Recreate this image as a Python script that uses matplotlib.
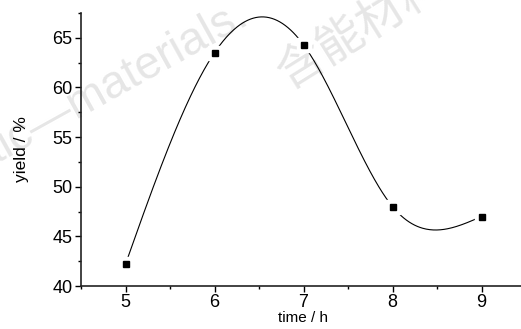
import numpy as np
import matplotlib.pyplot as plt
from matplotlib.ticker import MultipleLocator

plt.rcParams['font.family'] = ['Liberation Sans', 'Noto Sans CJK SC', 'DejaVu Sans']

# data
time_h = [5, 6, 7, 8, 9]
yield_pct = [42.2, 63.5, 64.3, 48.0, 47.0]


def natural_spline(x, y, n=400):
    # natural cubic spline through the measured points (Origin-style smooth line)
    x = np.asarray(x, float)
    y = np.asarray(y, float)
    h = np.diff(x)
    k = len(x)
    A = np.zeros((k, k))
    b = np.zeros(k)
    A[0, 0] = A[-1, -1] = 1
    for i in range(1, k - 1):
        A[i, i - 1] = h[i - 1]
        A[i, i] = 2 * (h[i - 1] + h[i])
        A[i, i + 1] = h[i]
        b[i] = 6 * ((y[i + 1] - y[i]) / h[i] - (y[i] - y[i - 1]) / h[i - 1])
    M = np.linalg.solve(A, b)
    xs = np.linspace(x[0], x[-1], n)
    idx = np.clip(np.searchsorted(x, xs) - 1, 0, k - 2)
    x0, x1 = x[idx], x[idx + 1]
    hh = x1 - x0
    a = (x1 - xs) / hh
    c = (xs - x0) / hh
    ys = (a * y[idx] + c * y[idx + 1]
          + ((a ** 3 - a) * M[idx] + (c ** 3 - c) * M[idx + 1]) * hh ** 2 / 6)
    return xs, ys


fig = plt.figure(figsize=(5.21, 3.29), dpi=100)
ax = fig.add_axes([81 / 521, 1 - 286 / 329, 445 / 521, 273 / 329])

# watermark (behind the axes)
fig.text(-0.008, 0.50, "tic\u2014materials.", fontsize=33, color='#e6e6e6',
         rotation=29, rotation_mode='anchor', ha='left', va='baseline', zorder=-1,
         family=['Liberation Sans'])
fig.text(0.693, 0.915, "含能材料", fontsize=34, color='#e6e6e6',
         rotation=32, rotation_mode='anchor', ha='center', va='center', zorder=-1,
         family=['Noto Sans CJK SC'])

xs, ys = natural_spline(time_h, yield_pct)
ax.plot(xs, ys, color='black', lw=0.8, zorder=2)
ax.plot(time_h, yield_pct, ls='none', marker='s', ms=10, color='white', zorder=3)
ax.plot(time_h, yield_pct, ls='none', marker='s', ms=5, color='black', zorder=4)

ax.set_xlim(4.5, 9.5)
ax.set_ylim(40, 67.5)
ax.xaxis.set_major_locator(MultipleLocator(1))
ax.xaxis.set_minor_locator(MultipleLocator(0.5))
ax.yaxis.set_major_locator(MultipleLocator(5))
ax.yaxis.set_minor_locator(MultipleLocator(2.5))

ax.spines['top'].set_visible(False)
ax.spines['right'].set_visible(False)
for s in ['left', 'bottom']:
    ax.spines[s].set_linewidth(1.2)
    ax.spines[s].set_color('#222222')
ax.patch.set_alpha(0)

ax.tick_params(which='major', direction='out', length=4, width=1, labelsize=13, pad=2)
ax.tick_params(which='minor', direction='out', length=2.5, width=1)

ax.set_xlabel("time / h", fontsize=11, labelpad=0)
ax.set_ylabel("yield / %", fontsize=12.5, labelpad=17)

fig.savefig("out.png", dpi=100)
